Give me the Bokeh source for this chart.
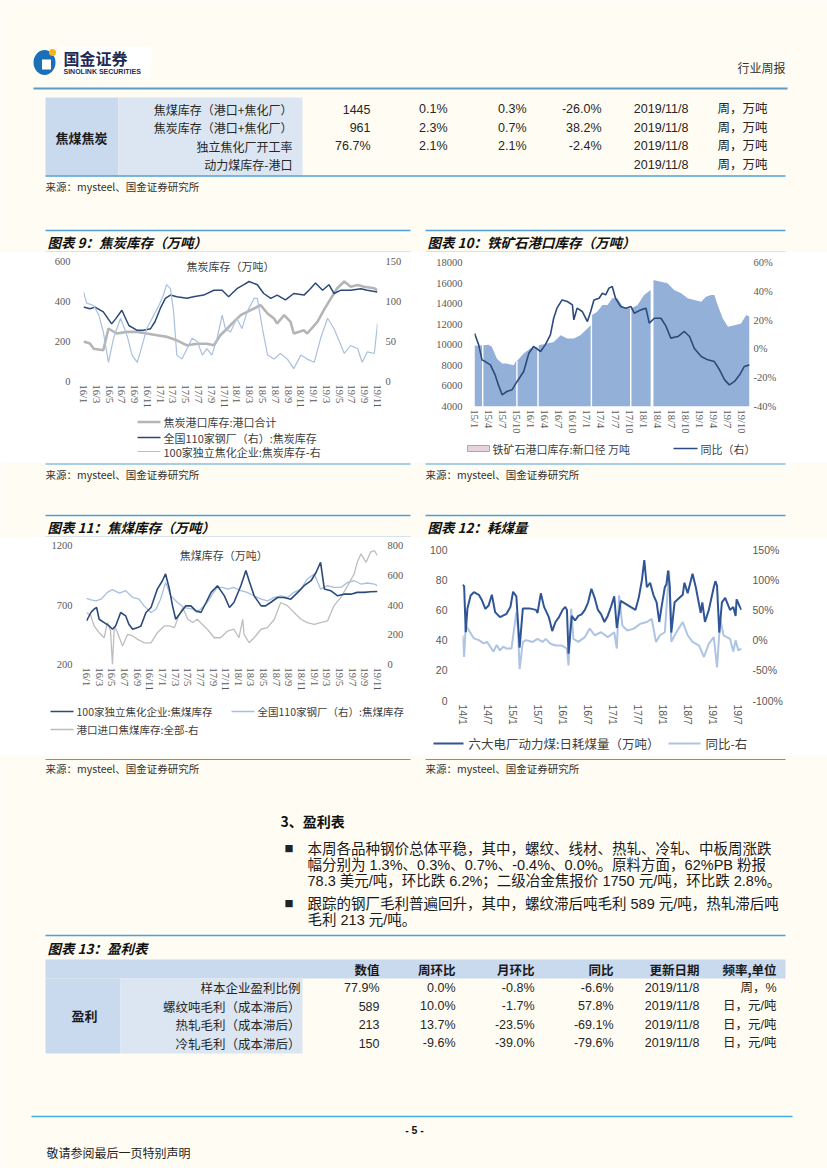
import math
from bokeh.plotting import figure
from bokeh.models import Range1d, LinearAxis, FixedTicker, Label, Spacer
from bokeh.layouts import column, row
from bokeh.embed import file_html
from bokeh.resources import INLINE
from bokeh.core.properties import value

# ---------------- fonts / colours ----------------
CREAM = "#fffcf3"
CJK = "Noto Sans CJK SC"
SANS = "Liberation Sans"
SERIF = "Liberation Serif"
MIX = "Liberation Sans, Noto Sans CJK SC"
SEC_LINE = "#4f9fd6"
SUB_LINE = "#a9cbe8"
BLUE_DARK = "#c9d9ee"
BLUE_LIGHT = "#dce6f3"
TXT = "#262626"

# ---------------- top table ----------------
T1_GROUP = "焦煤焦炭"
T1_LABELS = ["焦煤库存（港口+焦化厂）", "焦炭库存（港口+焦化厂）", "独立焦化厂开工率", "动力煤库存-港口"]
T1_VALUE = ["1445", "961", "76.7%", ""]
T1_WOW = ["0.1%", "2.3%", "2.1%", ""]
T1_MOM = ["0.3%", "0.7%", "2.1%", ""]
T1_YOY = ["-26.0%", "38.2%", "-2.4%", ""]
T1_DATE = ["2019/11/8", "2019/11/8", "2019/11/8", "2019/11/8"]
T1_UNIT = ["周，万吨", "周，万吨", "周，万吨", "周，万吨"]

SOURCE = "来源：mysteel、国金证券研究所"

# ---------------- chart 9: coke inventory ----------------
C9_TITLE = "图表 9：焦炭库存（万吨）"
C9_INNER = "焦炭库存（万吨）"
C9_XTICKS = list(range(0, 47, 2))
C9_XLABELS = ["16/1", "16/3", "16/5", "16/7", "16/9", "16/11", "17/1", "17/3", "17/5", "17/7", "17/9", "17/11",
              "18/1", "18/3", "18/5", "18/7", "18/9", "18/11", "19/1", "19/3", "19/5", "19/7", "19/9", "19/11"]
C9_NAMES = ["焦炭港口库存:港口合计", "全国110家钢厂（右）:焦炭库存", "100家独立焦化企业:焦炭库存-右"]
c9_port_x = [0, 1.0, 1.6, 3.1, 3.9, 5.2, 6.8, 8.4, 9.9, 11.5, 13.1, 14.6, 16.2, 17.8, 19.3, 20.4, 21.4, 22.5,
             23.5, 24.6, 25.6, 26.7, 27.7, 28.8, 29.8, 30.3, 31.4, 32.4, 32.9, 34.5, 35.0, 36.6, 37.6, 38.7,
             39.7, 40.8, 41.8, 42.9, 43.9, 45.5, 46]
c9_port = [200, 190, 164, 156, 265, 240, 248, 248, 240, 231, 223, 206, 181, 189, 189, 181, 231, 265, 298, 332,
           348, 365, 382, 340, 315, 290, 332, 298, 240, 256, 240, 298, 357, 415, 466, 500, 474, 483, 474, 466, 457]
c9_mill_x = [0, 1.0, 1.8, 3.1, 4.4, 5.0, 6.0, 7.1, 8.4, 9.4, 10.5, 11.2, 12.0, 12.8, 13.6, 14.6, 16.2, 17.2,
             18.8, 20.4, 21.7, 22.7, 24.0, 25.1, 25.9, 27.2, 28.2, 29.3, 30.3, 31.6, 32.9, 34.5, 35.5, 36.3,
             37.4, 38.4, 39.2, 40.2, 41.8, 43.4, 44.4, 46]
c9_mill = [93, 91, 93, 87, 72, 78, 89, 70, 64, 64, 66, 75, 91, 104, 108, 106, 104, 106, 108, 114, 114, 106, 116,
           121, 125, 121, 110, 104, 108, 102, 110, 108, 116, 123, 114, 121, 110, 114, 114, 116, 114, 112]
c9_coker_x = [0, 0.5, 1.6, 2.4, 3.1, 3.9, 4.7, 5.8, 6.8, 7.6, 8.4, 8.9, 9.9, 11.0, 11.8, 12.5, 13.0, 13.6, 14.1,
              14.6, 15.4, 16.2, 17.0, 17.8, 18.6, 19.3, 20.1, 20.9, 21.7, 22.2, 23.0, 24.0, 24.8, 25.6, 26.7,
              27.2, 28.0, 28.8, 29.8, 30.8, 31.9, 32.9, 34.0, 35.0, 36.1, 37.1, 38.2, 39.2, 40.2, 40.8, 41.8,
              42.9, 43.6, 44.4, 45.5, 46]
c9_coker = [112, 98, 95, 83, 62, 24, 54, 79, 58, 33, 24, 37, 66, 83, 95, 108, 121, 116, 87, 33, 28, 41, 54, 50,
            33, 41, 33, 54, 83, 66, 62, 79, 66, 87, 104, 104, 66, 33, 28, 35, 28, 16, 33, 28, 24, 54, 79, 66,
            47, 35, 45, 41, 24, 37, 35, 72]

# ---------------- chart 10: iron ore port inventory ----------------
C10_TITLE = "图表 10：铁矿石港口库存（万吨）"
C10_NAMES = ["铁矿石港口库存:新口径 万吨", "同比（右）"]
C10_XTICKS = list(range(0, 58, 3))
C10_XLABELS = ["15/1", "15/4", "15/7", "15/10", "16/1", "16/4", "16/7", "16/10", "17/1", "17/4", "17/7", "17/10",
               "18/1", "18/4", "18/7", "18/10", "19/1", "19/4", "19/7", "19/10"]
c10_x = [0, 1.6, 1.75, 1.9, 3.0, 3.7, 4.8, 5.9, 6.9, 8.4, 8.9, 9.05, 9.2, 10.5, 11.9, 13.4, 13.55, 13.7, 15.5,
         16.9, 18.4, 19.8, 21.2, 22.6, 24.1, 24.8, 24.95, 25.1, 26.2, 27.3, 28.4, 29.4, 30.5, 31.9, 33.2, 33.35,
         33.5, 34.8, 36.2, 37.6, 37.9, 38.2, 39.8, 41.2, 42.6, 44.1, 45.5, 46.9, 48.4, 49.4, 50.5, 51.2, 51.9,
         53.0, 54.1, 55.5, 56.9, 58.0, 58.7]
c10_stock = [9900, 9960, None, 9960, 10000, 9800, 8650, 8170, 8170, 8000, 8500, None, 8500, 9150, 9630, 9800,
             None, 9960, 10120, 10280, 10930, 10600, 10600, 10930, 11590, 11910, None, 12890, 13210, 13870,
             13870, 14520, 14520, 13540, 13540, None, 13540, 13870, 14840, 15330, None, 16300, 16140, 15980,
             15330, 15000, 14520, 14350, 14190, 14680, 14840, 14840, 13870, 12560, 11750, 11910, 12080, 12890,
             12730]
c10_yoy_x = [0, 0.9, 1.6, 2.3, 3.4, 4.4, 5.1, 5.9, 6.9, 8.0, 9.1, 9.8, 10.5, 11.6, 12.6, 14.1, 15.1, 16.2, 16.9,
             17.6, 18.7, 19.8, 20.9, 21.2, 21.9, 23.0, 24.1, 24.8, 25.5, 26.6, 27.3, 28.0, 28.7, 29.4, 30.1,
             31.2, 32.3, 33.4, 34.1, 35.5, 36.6, 37.3, 38.4, 39.8, 40.9, 41.9, 43.4, 44.8, 45.9, 46.9, 48.4,
             49.8, 51.2, 52.3, 53.4, 54.4, 55.5, 56.6, 57.6, 58.7]
c10_yoy = [10.9, 2.8, -7.6, -8.8, -11.1, -18, -25, -31.9, -29.6, -28.4, -22.6, -19.2, -15.7, -3, 1.7, -1.8, 2.8,
           9.8, 21.3, 28.3, 34, 32.9, 30.6, 20.2, 28.3, 26, 19, 26, 34, 35.2, 38.7, 37.5, 42.2, 43.3, 35.2, 29.4,
           28.3, 29.4, 24.8, 27.1, 28.3, 17.9, 21.3, 21.3, 15.6, 7.5, 8.6, 12.1, 8.6, 0.5, -5.3, -7.6, -8.8,
           -14.5, -21.5, -25, -22.6, -18, -12.2, -11.1]

# ---------------- chart 11: coking coal inventory ----------------
C11_TITLE = "图表 11：焦煤库存（万吨）"
C11_INNER = "焦煤库存（万吨）"
C11_NAMES = ["100家独立焦化企业:焦煤库存", "全国110家钢厂（右）:焦煤库存", "港口进口焦煤库存:全部-右"]
c11_coker_x = [0, 0.7, 1.2, 1.6, 2.0, 2.8, 3.6, 4.1, 4.6, 5.4, 6.2, 6.7, 7.3, 8.1, 8.6, 9.4, 10.2, 11.2, 12.0,
               12.5, 13.1, 13.6, 14.1, 14.9, 15.7, 16.5, 17.3, 18.1, 18.9, 19.7, 20.7, 21.8, 22.6, 23.3, 24.4,
               25.2, 25.7, 26.5, 27.6, 28.3, 29.1, 30.2, 31.2, 32.3, 33.4, 34.4, 35.5, 36.3, 37.0, 37.6, 38.6,
               39.7, 40.7, 41.8, 42.8, 43.9, 44.9, 46]
c11_coker = [566, 637, 665, 679, 580, 552, 524, 496, 524, 637, 608, 538, 496, 510, 524, 637, 679, 834, 904, 961,
             834, 693, 580, 637, 693, 693, 651, 637, 721, 806, 862, 777, 679, 721, 862, 989, 904, 777, 693, 693,
             721, 763, 763, 749, 806, 862, 904, 975, 1059, 834, 820, 777, 791, 791, 806, 806, 811, 814]
c11_mill_x = [0, 0.7, 1.5, 2.3, 3.3, 4.1, 5.2, 6.2, 7.3, 8.3, 9.1, 10.2, 11.0, 11.7, 12.5, 13.3, 14.4, 15.4,
              16.8, 17.5, 18.3, 19.1, 19.9, 20.7, 21.5, 22.3, 23.3, 24.4, 25.4, 26.5, 27.6, 28.6, 29.7, 30.7,
              31.8, 32.8, 33.9, 34.9, 36.0, 37.0, 38.1, 39.1, 40.2, 41.3, 42.3, 43.4, 44.4, 45.5, 46]
c11_mill = [444, 435, 428, 439, 485, 503, 480, 496, 451, 439, 394, 349, 372, 439, 552, 462, 417, 383, 372, 349,
            383, 417, 473, 518, 518, 507, 518, 496, 485, 462, 439, 428, 451, 462, 451, 485, 507, 575, 608, 507,
            530, 518, 518, 552, 563, 541, 548, 541, 530]
c11_port_x = [0, 0.7, 1.2, 2.0, 2.8, 3.3, 3.8, 4.1, 4.4, 4.9, 5.7, 6.5, 7.3, 8.1, 9.1, 10.2, 11.2, 12.3, 13.1,
              13.9, 14.6, 15.2, 16.0, 16.8, 17.5, 18.3, 19.1, 20.2, 21.2, 22.3, 23.3, 24.1, 24.7, 24.9, 25.7,
              26.5, 27.6, 28.6, 29.7, 30.7, 31.8, 32.8, 33.9, 34.9, 36.0, 37.0, 38.1, 39.1, 40.2, 41.3, 42.3,
              42.8, 43.4, 44.2, 44.9, 45.5, 46]
c11_port = [349, 327, 259, 214, 180, 282, 225, 0, 259, 214, 124, 203, 192, 169, 146, 146, 214, 259, 259, 248,
            327, 383, 304, 282, 304, 270, 237, 180, 180, 225, 237, 180, 304, 203, 146, 180, 237, 248, 304, 417,
            394, 349, 304, 282, 270, 282, 293, 394, 451, 530, 608, 687, 744, 687, 755, 766, 732]

# ---------------- chart 12: coal consumption ----------------
C12_TITLE = "图表 12：耗煤量"
C12_NAMES = ["六大电厂动力煤:日耗煤量（万吨）", "同比-右"]
C12_XTICKS = list(range(0, 67, 6))
C12_XLABELS = ["14/1", "14/7", "15/1", "15/7", "16/1", "16/7", "17/1", "17/7", "18/1", "18/7", "19/1", "19/7"]
c12_use_x = [0, 0.39, 0.78, 1.17, 1.95, 2.73, 3.91, 4.69, 5.47, 6.25, 7.03, 7.81, 8.98, 10.55, 11.48, 12.11,
             12.89, 13.67, 14.45, 16.02, 17.58, 17.97, 18.75, 19.53, 20.70, 21.48, 22.27, 23.05, 23.98, 24.61,
             25.0, 25.39, 26.17, 26.95, 27.73, 28.52, 29.30, 30.08, 30.86, 31.64, 32.42, 33.20, 33.98, 34.77,
             35.55, 36.33, 36.95, 37.89, 39.06, 40.23, 41.41, 42.19, 42.97, 43.52, 44.14, 44.92, 45.70, 46.48,
             47.11, 47.66, 48.44, 48.83, 49.22, 49.61, 50.0, 50.78, 51.95, 52.73, 53.13, 53.91, 55.08, 55.86,
             57.03, 57.42, 58.05, 58.98, 60.16, 60.55, 60.94, 61.48, 62.11, 62.89, 64.06, 64.84, 65.39, 65.63,
             66.41, 66.80]
c12_use = [76.6, 75.7, 45.3, 60.7, 69.5, 71.7, 70, 66.2, 60.7, 62.9, 70, 58.5, 55.2, 57.4, 62, 72, 69, 35, 61,
           61, 60, 58, 71, 62, 55, 46, 52, 55, 60, 62, 60, 31, 56, 53, 56, 57, 60, 65, 74, 68, 60, 57, 52, 56, 62,
           69, 48, 66, 64, 62, 60, 68, 80, 93, 75, 78, 70, 65, 52, 62, 75, 77, 86, 76, 45, 65, 68, 70, 78, 71, 84,
           75, 58, 65, 52, 60, 75, 79, 76, 45, 65, 68, 60, 62, 56, 67, 62, 60]
c12_yoy_x = [0, 0.39, 0.78, 1.56, 2.73, 3.91, 5.08, 5.86, 6.64, 7.42, 8.20, 8.98, 9.77, 10.55, 11.72, 12.89,
             13.28, 13.67, 14.45, 15.23, 16.80, 17.97, 19.14, 19.92, 21.09, 22.27, 23.83, 25.0, 25.39, 26.02,
             26.56, 27.73, 29.30, 30.47, 31.64, 33.20, 34.77, 36.33, 36.95, 37.50, 38.28, 39.45, 41.02, 42.58,
             44.14, 45.31, 46.33, 47.27, 48.44, 49.45, 50.0, 50.78, 52.73, 53.91, 55.08, 56.64, 57.81, 58.98,
             60.16, 60.94, 61.72, 62.50, 64.06, 64.84, 65.39, 66.02, 66.80]
c12_yoy = [7.6, -28, 24, 16, 2.8, 0, -5.5, -2.8, -11, -19, -8, -17, -11, -14, -14, 46, 19, -48, -3, 0, -3, 2, -3,
           2, -6, -9, -9, -14, -42, 52, 2, -3, 5, 19, 8, 13, 5, 13, -14, 74, 24, 16, 19, 27, 30, 35, -3, 8, 13,
           115, -3, 8, 30, 8, -3, -9, -28, -6, 5, -45, 35, 8, 2, -19, 0, -17, -14]

# ---------------- text section ----------------
SEC_TITLE = "3、盈利表"
BULLET1 = ["本周各品种钢价总体平稳，其中，螺纹、线材、热轧、冷轧、中板周涨跌",
           "幅分别为 1.3%、0.3%、0.7%、-0.4%、0.0%。原料方面，62%PB 粉报",
           "78.3 美元/吨，环比跌 6.2%；二级冶金焦报价 1750 元/吨，环比跌 2.8%。"]
BULLET2 = ["跟踪的钢厂毛利普遍回升，其中，螺纹滞后吨毛利 589 元/吨，热轧滞后吨",
           "毛利 213 元/吨。"]

# ---------------- table 13 ----------------
T13_TITLE = "图表 13：盈利表"
T13_GROUP = "盈利"
T13_HEADER = ["数值", "周环比", "月环比", "同比", "更新日期", "频率,单位"]
T13_LABELS = ["样本企业盈利比例", "螺纹吨毛利（成本滞后）", "热轧毛利（成本滞后）", "冷轧毛利（成本滞后）"]
T13_VALUE = ["77.9%", "589", "213", "150"]
T13_WOW = ["0.0%", "10.0%", "13.7%", "-9.6%"]
T13_MOM = ["-0.8%", "-1.7%", "-23.5%", "-39.0%"]
T13_YOY = ["-6.6%", "57.8%", "-69.1%", "-79.6%"]
T13_DATE = ["2019/11/8", "2019/11/8", "2019/11/8", "2019/11/8"]
T13_UNIT = ["周，%", "日，元/吨", "日，元/吨", "日，元/吨"]

# series styles (shared by lines and their legend keys)
S9 = [dict(line_color="#b5b5b5", line_width=2.6), dict(line_color="#2c4a78", line_width=1.5),
      dict(line_color="#a9c0de", line_width=1.2)]
S10_AREA = "#93b0d9"
S10_KEY = dict(fill_color="#e8d2dd", line_color="#b3a3ab")
S10_LINE = dict(line_color="#2a4b7c", line_width=1.6)
S11 = [dict(line_color="#2b4a7a", line_width=1.6), dict(line_color="#a7bfe0", line_width=1.3),
       dict(line_color="#bdbdbd", line_width=1.3)]
S12 = [dict(line_color="#2f5597", line_width=2), dict(line_color="#adc4e3", line_width=2)]

PAGE_W = 827

# ================= helpers =================
def flat_fig(w, y0, y1, bg):
    p = figure(width=w, height=y1 - y0, x_range=Range1d(0, w), y_range=Range1d(y1, y0),
               x_axis_location=None, y_axis_location=None, output_backend="svg",
               toolbar_location=None, min_border=0)
    p.grid.visible = False
    p.outline_line_color = None
    p.background_fill_color = bg
    p.border_fill_color = bg
    return p


def page_band(y0, y1):
    return flat_fig(PAGE_W, y0, y1, CREAM)


def put(p, x, y, s, size, font=CJK, color=TXT, align="left", style="normal"):
    p.text(x=[x], y=[y], text=[s], text_font=value(font), text_font_size=f"{size}px",
           text_color=color, text_align=align, text_baseline="middle", text_font_style=style)


def put_col(p, x, ys, texts, size, font=MIX, color=TXT, align="right", style="normal"):
    p.text(x=[x] * len(ys), y=ys, text=texts, text_font=value(font), text_font_size=f"{size}px",
           text_color=color, text_align=align, text_baseline="middle", text_font_style=style)


def hline(p, x0, x1, y, color=SEC_LINE, width=1.5):
    p.segment(x0=[x0], y0=[y], x1=[x1], y1=[y], line_color=color, line_width=width)


def key_line(p, x, y, gw, style, label, size=11, standoff=3):
    p.segment(x0=[x], y0=[y], x1=[x + gw], y1=[y], **style)
    put(p, x + gw + standoff, y, label, size, color="#404040")


def key_box(p, x, y, gw, gh, style, label, size=11, standoff=3):
    p.quad(left=[x], right=[x + gw], top=[y - gh / 2], bottom=[y + gh / 2], **style)
    put(p, x + gw + standoff, y, label, size, color="#404040")


def style_axis(ax, font, size, standoff):
    ax.axis_line_color = None
    ax.major_tick_line_color = None
    ax.minor_tick_line_color = None
    ax.major_tick_out = 0
    ax.major_tick_in = 0
    ax.minor_tick_out = 0
    ax.minor_tick_in = 0
    ax.major_label_text_font = font
    ax.major_label_text_font_size = f"{size}px"
    ax.major_label_text_color = "#595959"
    ax.major_label_standoff = standoff


def make_chart(w, h, xr, yr, yr2, borders, xt, xl, yt, y2t, y2l, font, size, stand):
    l, r, t, b = borders
    p = figure(width=w, height=h, x_range=Range1d(*xr), y_range=Range1d(*yr),
               output_backend="svg", toolbar_location=None,
               min_border_left=l, min_border_right=r, min_border_top=t, min_border_bottom=b)
    p.extra_y_ranges = {"r": Range1d(*yr2)}
    p.background_fill_color = "white"
    p.border_fill_color = "white"
    p.outline_line_color = None
    p.grid.visible = False
    xa = p.below[0]
    xa.ticker = FixedTicker(ticks=xt)
    xa.major_label_overrides = {k: s for k, s in zip(xt, xl)}
    xa.major_label_orientation = "vertical"
    ya = p.left[0]
    ya.ticker = FixedTicker(ticks=yt)
    ax2 = LinearAxis(y_range_name="r", ticker=FixedTicker(ticks=y2t),
                     major_label_overrides={k: s for k, s in zip(y2t, y2l)})
    p.add_layout(ax2, "right")
    sl, sr, sb = stand
    style_axis(xa, font, size, sb)
    style_axis(ya, font, size, sl)
    style_axis(ax2, font, size, sr)
    return p


def segments(xs, ys):
    segs, cx, cy = [], [], []
    for x, y in zip(xs, ys):
        if y is None:
            if cx:
                segs.append((cx, cy))
            cx, cy = [], []
        else:
            cx.append(x)
            cy.append(y)
    if cx:
        segs.append((cx, cy))
    return segs

# ================= band A: header, top table, chart titles =================
A = page_band(0, 252)
A.quad(left=[60], right=[150], top=[46], bottom=[77], fill_color="white", line_color=None)
A.ellipse(x=[44], y=[62], width=[22], height=[25], fill_color="#1b6fb8", line_color=None)
A.rect(x=[46], y=[64], width=[9], height=[10], fill_color="white", line_color=None)
A.ellipse(x=[52], y=[52], width=[7], height=[7], fill_color="#f3b51f", line_color=None)
put(A, 63, 57, "国金证券", 16, style="bold", color="#1d2b55")
put(A, 63, 70.5, "SINOLINK SECURITIES", 7, font=SANS, style="bold", color="#1d2b55")
put(A, 785, 67, "行业周报", 12, color="#333333", align="right")
hline(A, 33, 787, 88, color="#5a9cc8", width=2.2)

# top table
T1_Y = [108.5 + 18.6 * i for i in range(len(T1_LABELS))]
A.quad(left=[45], right=[118], top=[97], bottom=[175], fill_color=BLUE_DARK, line_color=None)
A.quad(left=[118], right=[302], top=[97], bottom=[175], fill_color=BLUE_LIGHT, line_color=None)
put(A, 81, 137, T1_GROUP, 13, style="bold", align="center", color="#1a1a1a")
put_col(A, 292, T1_Y, T1_LABELS, 12, font=CJK)
for edge, col in zip([370, 447, 526, 601, 688, 767], [T1_VALUE, T1_WOW, T1_MOM, T1_YOY, T1_DATE, T1_UNIT]):
    put_col(A, edge, T1_Y, col, 12.5)
hline(A, 45, 785, 175.5, width=1.5)
put(A, 45, 186, SOURCE, 10.5, color="#333333")

hline(A, 45, 410, 230)
hline(A, 425, 785, 230)
put(A, 47, 241, C9_TITLE, 13.5, style="bold italic", color="#111111")
put(A, 427, 241, C10_TITLE, 13.5, style="bold italic", color="#111111")
hline(A, 45, 410, 251.5, color=SUB_LINE, width=1)
hline(A, 425, 785, 251.5, color=SUB_LINE, width=1)

# ================= chart 9 =================
c9 = make_chart(365, 160, (0, 46), (0, 600), (0, 150), (38, 33, 9, 31),
                C9_XTICKS, C9_XLABELS, [0, 200, 400, 600], [0, 50, 100, 150], ["0", "50", "100", "150"],
                SERIF, 10.5, (13, 8, 3))
c9.line(c9_port_x, c9_port, **S9[0])
c9.line(c9_mill_x, c9_mill, y_range_name="r", **S9[1])
c9.line(c9_coker_x, c9_coker, y_range_name="r", **S9[2])
c9.add_layout(Label(x=23, y=578, text=C9_INNER, text_align="center", text_baseline="middle",
                    text_font=CJK, text_font_size="11px", text_color="#404040"))
l9 = flat_fig(365, 0, 50, "white")
for name, st, yk in zip(C9_NAMES, S9, [9.5, 25, 39]):
    key_line(l9, 92, yk, 23, st, name)

# ================= chart 10 =================
c10 = make_chart(360, 184, (0, 58.7), (4000, 18000), (-40, 60), (49, 36, 10, 30),
                 C10_XTICKS, C10_XLABELS, list(range(4000, 18001, 2000)),
                 [-40, -20, 0, 20, 40, 60], ["-40%", "-20%", "0%", "20%", "40%", "60%"],
                 SERIF, 10.5, (12, 4, 3))
base10 = c10.y_range.start
for sx, sy in segments(c10_x, c10_stock):
    c10.varea(x=sx, y1=[base10] * len(sx), y2=sy, fill_color=S10_AREA)
c10.line(c10_yoy_x, c10_yoy, y_range_name="r", **S10_LINE)
l10 = flat_fig(360, 0, 26, "white")
key_box(l10, 42, 12, 22, 6, S10_KEY, C10_NAMES[0])
key_line(l10, 248, 12, 24, S10_LINE, C10_NAMES[1])

# ================= band C =================
C = page_band(462, 537)
hline(C, 45, 410, 463.5, width=1.2)
hline(C, 425, 785, 463.5, width=1.2)
put(C, 45, 474, SOURCE, 10.5, color="#333333")
put(C, 425, 474, SOURCE, 10.5, color="#333333")
hline(C, 45, 410, 515)
hline(C, 425, 785, 515)
put(C, 47, 526, C11_TITLE, 13.5, style="bold italic", color="#111111")
put(C, 427, 526, C12_TITLE, 13.5, style="bold italic", color="#111111")
hline(C, 45, 410, 536.5, color=SUB_LINE, width=1)

# ================= chart 11 =================
c11 = make_chart(365, 158, (0, 46), (200, 1200), (0, 800), (41, 33, 8, 31),
                 C9_XTICKS, C9_XLABELS, [200, 700, 1200], [0, 200, 400, 600, 800],
                 ["0", "200", "400", "600", "800"], SERIF, 10.5, (14, 10, 3))
c11.line(c11_port_x, c11_port, y_range_name="r", **S11[2])
c11.line(c11_mill_x, c11_mill, y_range_name="r", **S11[1])
c11.line(c11_coker_x, c11_coker, **S11[0])
c11.add_layout(Label(x=21.7, y=1116, text=C11_INNER, text_align="center", text_baseline="middle",
                     text_font=CJK, text_font_size="11px", text_color="#404040"))
l11 = flat_fig(365, 0, 60, "white")
for name, st, (xk, yk) in zip(C11_NAMES, S11, [(5, 16), (186, 16), (5, 34)]):
    key_line(l11, xk, yk, 23, st, name, size=10.5)

# ================= chart 12 =================
c12 = make_chart(360, 191, (0, 66.8), (0, 100), (-100, 150), (37, 38, 12, 28),
                 C12_XTICKS, C12_XLABELS, [0, 20, 40, 60, 80, 100],
                 [-100, -50, 0, 50, 100, 150], ["-100%", "-50%", "0%", "50%", "100%", "150%"],
                 SANS, 10.5, (15, 11, 4))
c12.line(c12_yoy_x, c12_yoy, y_range_name="r", **S12[1])
c12.line(c12_use_x, c12_use, **S12[0])
l12 = flat_fig(360, 0, 27, "white")
key_line(l12, 8, 15, 30, S12[0], C12_NAMES[0], size=12.5, standoff=5)
key_line(l12, 243, 15, 32, S12[1], C12_NAMES[1], size=12.5, standoff=5)

# ================= band E: sources, text, table 13, footer =================
E = page_band(755, 1168)
hline(E, 45, 410, 759, width=1.2)
hline(E, 425, 785, 759, width=1.2)
put(E, 45, 768, SOURCE, 10.5, color="#333333")
put(E, 425, 768, SOURCE, 10.5, color="#333333")

put(E, 280, 820, SEC_TITLE, 14, style="bold", color="#111111")
B1_Y = [848 + 16 * i for i in range(len(BULLET1))]
B2_Y = [903 + 16.5 * i for i in range(len(BULLET2))]
put(E, 284, B1_Y[0], "■", 9, color="#222222")
put(E, 284, B2_Y[0], "■", 9, color="#222222")
put_col(E, 307, B1_Y, BULLET1, 14.5, align="left", color="#1a1a1a")
put_col(E, 307, B2_Y, BULLET2, 14.5, align="left", color="#1a1a1a")

hline(E, 45, 785, 935)
put(E, 47, 947, T13_TITLE, 13.5, style="bold italic", color="#111111")
E.quad(left=[45], right=[785], top=[959], bottom=[978], fill_color=BLUE_DARK, line_color=None)
E.quad(left=[45], right=[120], top=[978], bottom=[1053], fill_color=BLUE_DARK, line_color=None)
E.quad(left=[120], right=[302], top=[978], bottom=[1053], fill_color=BLUE_LIGHT, line_color=None)
T13_EDGES = [379, 455, 534, 613, 699, 776]
for edge, head in zip(T13_EDGES, T13_HEADER):
    put(E, edge, 968.5, head, 12.5, style="bold", align="right", color="#1a1a1a")
T13_Y = [987 + 18.6 * i for i in range(len(T13_LABELS))]
put(E, 84, 1015, T13_GROUP, 13, style="bold", align="center", color="#1a1a1a")
put_col(E, 300, T13_Y, T13_LABELS, 12.5, font=CJK)
for edge, col in zip(T13_EDGES, [T13_VALUE, T13_WOW, T13_MOM, T13_YOY, T13_DATE, T13_UNIT]):
    put_col(E, edge, T13_Y, col, 12.5)

hline(E, 31, 792, 1116, color="#41ade3", width=1.6)
put(E, 414, 1129, "- 5 -", 10.5, font=SANS, style="bold", align="center", color="#111111")
put(E, 46, 1152, "敬请参阅最后一页特别声明", 12, color="#222222")

# ================= layout =================
# legend strips are wrapped in their own row so that they are not frame-aligned with the charts above
row_b = row(Spacer(width=45, height=210), column(c9, row(l9)), Spacer(width=15, height=210),
            column(c10, row(l10)), Spacer(width=42, height=210))
row_d = row(Spacer(width=45, height=218), column(c11, row(l11)), Spacer(width=15, height=218),
            column(c12, row(l12)), Spacer(width=42, height=218))
page = column(A, row_b, C, row_d, E)

html = file_html(page, INLINE)
html = html.replace("<body>", '<body style="background-color:#fffcf3;">', 1)
open("out.html", "w").write(html)
